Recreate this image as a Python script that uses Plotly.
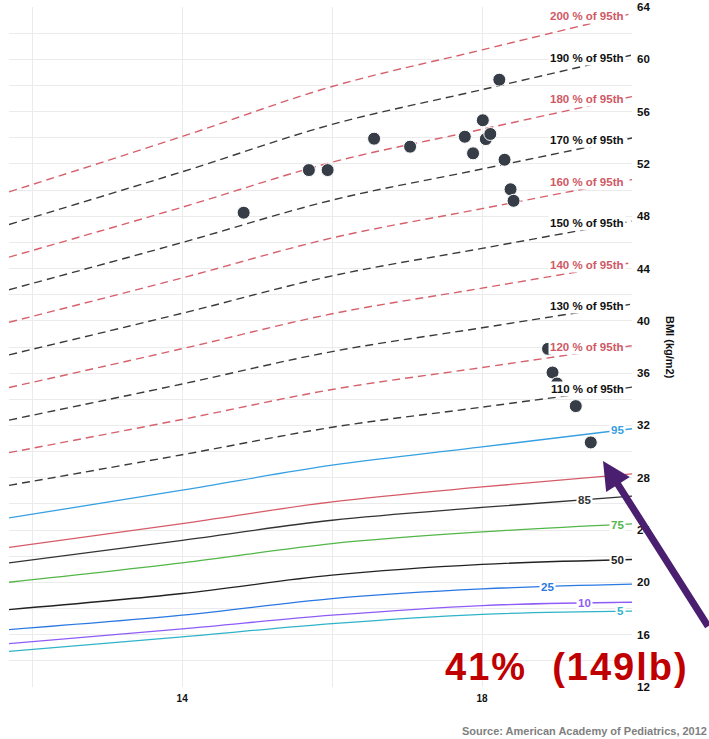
import numpy as np
import plotly.graph_objects as go

# ---------------- data ----------------
ages = [11.69, 14, 16, 18, 20]

p5 = [14.73, 15.83, 16.85, 17.56, 17.80]
p10 = [15.32, 16.44, 17.49, 18.23, 18.48]
p25 = [16.39, 17.49, 18.76, 19.50, 19.86]
p50 = [17.92, 19.15, 20.55, 21.37, 21.75]
p75 = [20.01, 21.49, 22.97, 23.86, 24.47]
p85 = [21.49, 23.22, 24.75, 25.73, 26.60]
p90 = [22.67, 24.50, 26.15, 27.30, 28.30]
p95 = [24.93, 27.05, 28.96, 30.36, 31.75]

pct110 = [27.42, 29.76, 31.86, 33.40, 34.93]
pct120 = [29.92, 32.46, 34.75, 36.43, 38.10]
pct130 = [32.41, 35.17, 37.65, 39.47, 41.28]
pct140 = [34.90, 37.87, 40.54, 42.50, 44.45]
pct150 = [37.40, 40.58, 43.44, 45.54, 47.63]
pct160 = [39.89, 43.28, 46.34, 48.58, 50.80]
pct170 = [42.38, 45.99, 49.23, 51.61, 53.98]
pct180 = [44.87, 48.69, 52.13, 54.65, 57.15]
pct190 = [47.37, 51.40, 55.02, 57.68, 60.33]
pct200 = [49.86, 54.10, 57.92, 60.72, 63.50]

ext_labels = ["110 % of 95th", "120 % of 95th", "130 % of 95th", "140 % of 95th",
              "150 % of 95th", "160 % of 95th", "170 % of 95th", "180 % of 95th",
              "190 % of 95th", "200 % of 95th"]

child_age = [14.82, 15.69, 15.94, 16.56, 17.04, 17.77, 18.01, 17.88, 18.05, 18.11,
             18.23, 18.30, 18.38, 18.42, 18.88, 18.94, 19.00, 19.25, 19.45]
child_bmi = [48.27, 51.53, 51.53, 53.93, 53.32, 54.08, 55.34, 52.81, 53.90, 54.29,
             58.44, 52.32, 50.06, 49.18, 37.86, 36.05, 35.21, 33.48, 30.70]

x_ticks = [14, 18]
y_ticks = [12, 16, 20, 24, 28, 32, 36, 40, 44, 48, 52, 56, 60, 64]

# ---------------- styling ----------------
RED_D = "#d6616c"
BLK_D = "#3a3a3a"
FONT = "Liberation Sans, Arial, sans-serif"

ext_series = [pct110, pct120, pct130, pct140, pct150, pct160, pct170, pct180, pct190, pct200]
ext_colors = [BLK_D, RED_D] * 5

pct_series = [
    ("5", p5, "#2fb3c9", "#2fb3c9", "right", None),
    ("10", p10, "#8f5cf7", "#8f5cf7", "center", 19.37),
    ("25", p25, "#2a78e2", "#2a78e2", "center", 18.87),
    ("50", p50, "#222222", "#222222", "right", None),
    ("75", p75, "#52b648", "#52b648", "right", None),
    ("85", p85, "#333333", "#333333", "center", 19.36),
    ("90", p90, "#d65b68", None, None, None),
    ("95", p95, "#36a0e2", "#36a0e2", "right", None),
]

fig = go.Figure()

for vals, col in zip(ext_series, ext_colors):
    fig.add_trace(go.Scatter(
        x=ages, y=vals, mode="lines",
        line=dict(color=col, width=1.4, dash="8px,5px", shape="spline"),
        hoverinfo="skip", showlegend=False))

for name, vals, col, lcol, anchor, lx in pct_series:
    fig.add_trace(go.Scatter(
        x=ages, y=vals, mode="lines",
        line=dict(color=col, width=1.3, shape="spline"),
        hoverinfo="skip", showlegend=False))

fig.add_trace(go.Scatter(
    x=child_age, y=child_bmi, mode="markers",
    marker=dict(size=13, color="#373d47", line=dict(color="white", width=1)),
    hoverinfo="skip", showlegend=False))

annotations = []
X_RIGHT = 19.92
LBL_FONT = dict(family=FONT, size=11.5, weight="bold")
for name, vals, col in zip(ext_labels, ext_series, ext_colors):
    annotations.append(dict(
        x=X_RIGHT, y=float(np.interp(19.85, ages, vals)), xref="x", yref="y",
        text=name, showarrow=False, xanchor="right", yanchor="middle",
        font=dict(LBL_FONT, color=("#cf5965" if col == RED_D else "#111111")),
        bgcolor="white", borderpad=1))

for name, vals, col, lcol, anchor, lx in pct_series:
    if lcol is None:
        continue
    if anchor == "right":
        ax_, ay_ = X_RIGHT, float(np.interp(19.85, ages, vals))
    else:
        ax_, ay_ = lx, float(np.interp(lx, ages, vals))
    annotations.append(dict(
        x=ax_, y=ay_, xref="x", yref="y", text=name, showarrow=False,
        xanchor=anchor, yanchor="middle",
        font=dict(LBL_FONT, color=lcol),
        bgcolor="white", borderpad=1))

# axis title on the right
annotations.append(dict(
    x=1.061, y=0.5, xref="paper", yref="paper", text="BMI (kg/m2)",
    textangle=90, showarrow=False, xanchor="center", yanchor="middle",
    font=dict(family=FONT, size=11, color="#111111", weight="bold")))

# source
annotations.append(dict(
    x=1.1236, y=-0.065, xref="paper", yref="paper",
    text="Source: American Academy of Pediatrics, 2012",
    showarrow=False, xanchor="right", yanchor="middle",
    font=dict(family=FONT, size=11, color="#7f7f7f", weight="bold")))

# big red callout
annotations.append(dict(
    x=0.8957, y=0.030, xref="paper", yref="paper",
    text="<span style='letter-spacing:2px'>41%  (149lb)</span>",
    showarrow=False, xanchor="center", yanchor="middle",
    font=dict(family=FONT, size=38, color="#c00000", weight="bold")))

# purple arrow
annotations.append(dict(
    x=19.613, y=29.29, xref="x", yref="y", text="",
    showarrow=True, ax=140, ay=167, axref="pixel", ayref="pixel",
    arrowcolor="#4b1f70", arrowwidth=7, arrowhead=2, arrowsize=0.8, standoff=0))

GRID = "#ebebeb"
fig.update_layout(
    width=709, height=739,
    margin=dict(l=9, r=77, t=7, b=52, autoexpand=False),
    paper_bgcolor="white", plot_bgcolor="white",
    showlegend=False,
    annotations=annotations,
    xaxis=dict(range=[11.69, 20], tickvals=x_ticks, ticktext=[str(v) for v in x_ticks],
               showgrid=True, gridcolor=GRID, gridwidth=1.3, zeroline=False,
               showline=False, ticks="", automargin=False, ticklabelstandoff=4,
               minor=dict(dtick=2, tick0=0, showgrid=True, gridcolor=GRID, gridwidth=1.3),
               tickfont=dict(family=FONT, size=10, color="#111111", weight="bold")),
    yaxis=dict(range=[12, 64], side="right", tickvals=y_ticks, ticktext=[str(v) for v in y_ticks],
               showgrid=True, gridcolor=GRID, gridwidth=1.3, zeroline=False,
               showline=False, ticks="", ticklabelstandoff=4, automargin=False,
               minor=dict(dtick=2, tick0=0, showgrid=True, gridcolor=GRID, gridwidth=1.3),
               tickfont=dict(family=FONT, size=11.5, color="#111111", weight="bold")),
)

fig.write_html("out.html",
               config={"displayModeBar": False},
               post_script="document.body.style.margin='0';document.body.style.overflow='hidden';")
